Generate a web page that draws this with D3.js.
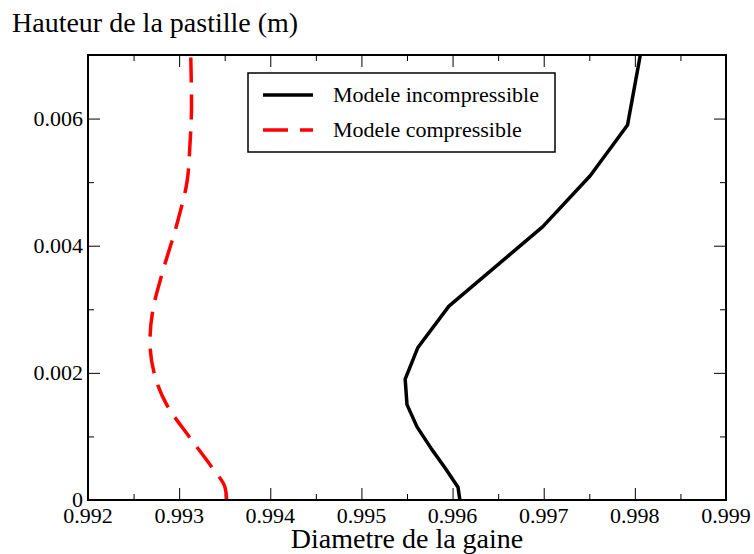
<!DOCTYPE html>
<html>
<head>
<meta charset="utf-8">
<script src="https://cdn.jsdelivr.net/npm/d3@7"></script>
<style>
  body { margin: 0; background: #fff; }
  text { font-family: "Liberation Serif", "Times New Roman", serif; fill: #000; }
</style>
</head>
<body>
<div id="chart"></div>
<script>
// data
const heightIncomp = [0, 0.0002, 0.0005, 0.0008, 0.00115, 0.0015, 0.0019, 0.0024, 0.00305, 0.0043, 0.0051, 0.0059, 0.007];
const diamIncomp = [0.99608, 0.99606, 0.99592, 0.99577, 0.99561, 0.99550, 0.99548, 0.99562, 0.99596, 0.99699, 0.99751, 0.99792, 0.99806];
const heightComp = [0, 0.0002, 0.0005, 0.001, 0.0015, 0.0018, 0.0025, 0.003, 0.0035, 0.0044, 0.005, 0.0056, 0.0062, 0.007];
const diamComp = [0.993522, 0.993503, 0.993366, 0.993108, 0.992863, 0.992768, 0.99268, 0.992713, 0.992801, 0.992987, 0.993086, 0.993119, 0.993136, 0.993127];
const xTicks = [0.992, 0.993, 0.994, 0.995, 0.996, 0.997, 0.998, 0.999];
const xMinor = [0.9925, 0.9935, 0.9945, 0.9955, 0.9965, 0.9975, 0.9985];
const yTicks = [0, 0.002, 0.004, 0.006];
const yMinor = [0.001, 0.003, 0.005, 0.007];
const seriesNames = ['Modele incompressible', 'Modele compressible'];

const W = 754, H = 554;
const margin = { top: 55, right: 28, bottom: 54, left: 88 };
const iw = W - margin.left - margin.right;
const ih = H - margin.top - margin.bottom;

const svg = d3.select('#chart').append('svg')
  .attr('width', W).attr('height', H);

const g = svg.append('g')
  .attr('transform', `translate(${margin.left},${margin.top})`);

const x = d3.scaleLinear().domain([0.992, 0.999]).range([0, iw]);
const y = d3.scaleLinear().domain([0, 0.007]).range([ih, 0]);

svg.append('defs').append('clipPath').attr('id', 'clip')
  .append('rect').attr('width', iw).attr('height', ih);

// ticks on all four sides, pointing inward
function ticks(axis, vals, len) {
  return axis.tickValues(vals).tickSize(-len).tickFormat('');
}
const tickG = g.append('g');
tickG.append('g').attr('transform', `translate(0,${ih})`).call(ticks(d3.axisBottom(x), xTicks, 12));
tickG.append('g').attr('transform', `translate(0,${ih})`).call(ticks(d3.axisBottom(x), xMinor, 6));
tickG.append('g').call(ticks(d3.axisTop(x), xTicks, 12));
tickG.append('g').call(ticks(d3.axisTop(x), xMinor, 6));
tickG.append('g').call(ticks(d3.axisLeft(y), yTicks, 12));
tickG.append('g').call(ticks(d3.axisLeft(y), yMinor, 6));
tickG.append('g').attr('transform', `translate(${iw},0)`).call(ticks(d3.axisRight(y), yTicks, 12));
tickG.append('g').attr('transform', `translate(${iw},0)`).call(ticks(d3.axisRight(y), yMinor, 6));
tickG.selectAll('.domain').remove();
tickG.selectAll('.tick line').attr('stroke', '#000').attr('stroke-width', 1);

// tick labels
g.selectAll('.xlab').data(xTicks).join('text')
  .attr('x', d => x(d)).attr('y', ih + 23)
  .attr('text-anchor', 'middle').style('font-size', '22px')
  .text(d => d3.format('.3f')(d));
g.selectAll('.ylab').data(yTicks).join('text')
  .attr('x', -5).attr('y', d => y(d) + 7)
  .attr('text-anchor', 'end').style('font-size', '22px')
  .text(d => d === 0 ? '0' : d3.format('.3f')(d));

// curves
const line = d3.line().x(d => x(d[0])).y(d => y(d[1]));
const lines = g.append('g').attr('clip-path', 'url(#clip)');
lines.append('path')
  .datum(diamIncomp.map((v, i) => [v, heightIncomp[i]]))
  .attr('d', line)
  .attr('fill', 'none').attr('stroke', '#000').attr('stroke-width', 3.5)
  .attr('stroke-linejoin', 'round');
lines.append('path')
  .datum(diamComp.map((v, i) => [v, heightComp[i]]))
  .attr('d', line.curve(d3.curveMonotoneY))
  .attr('fill', 'none').attr('stroke', '#ff0000').attr('stroke-width', 3.5)
  .attr('stroke-dasharray', '25,12');

// frame
g.append('rect').attr('width', iw).attr('height', ih)
  .attr('fill', 'none').attr('stroke', '#000').attr('stroke-width', 2);

// legend
const leg = svg.append('g');
leg.append('rect').attr('x', 248).attr('y', 73).attr('width', 307).attr('height', 79)
  .attr('fill', '#fff').attr('stroke', '#000').attr('stroke-width', 1.5);
[['#000', null], ['#ff0000', '25,12']].forEach((s, i) => {
  const ly = 95 + i * 35;
  leg.append('line').attr('x1', 263).attr('x2', 313).attr('y1', ly).attr('y2', ly)
    .attr('stroke', s[0]).attr('stroke-width', 3.5)
    .attr('stroke-dasharray', s[1]);
  leg.append('text').attr('x', 333).attr('y', ly + 7)
    .style('font-size', '22px').text(seriesNames[i]);
});

// axis titles
svg.append('text').attr('x', 12).attr('y', 32)
  .style('font-size', '28px').text('Hauteur de la pastille (m)');
svg.append('text').attr('x', margin.left + iw / 2).attr('y', 548)
  .attr('text-anchor', 'middle').style('font-size', '28px').text('Diametre de la gaine');
</script>
</body>
</html>
